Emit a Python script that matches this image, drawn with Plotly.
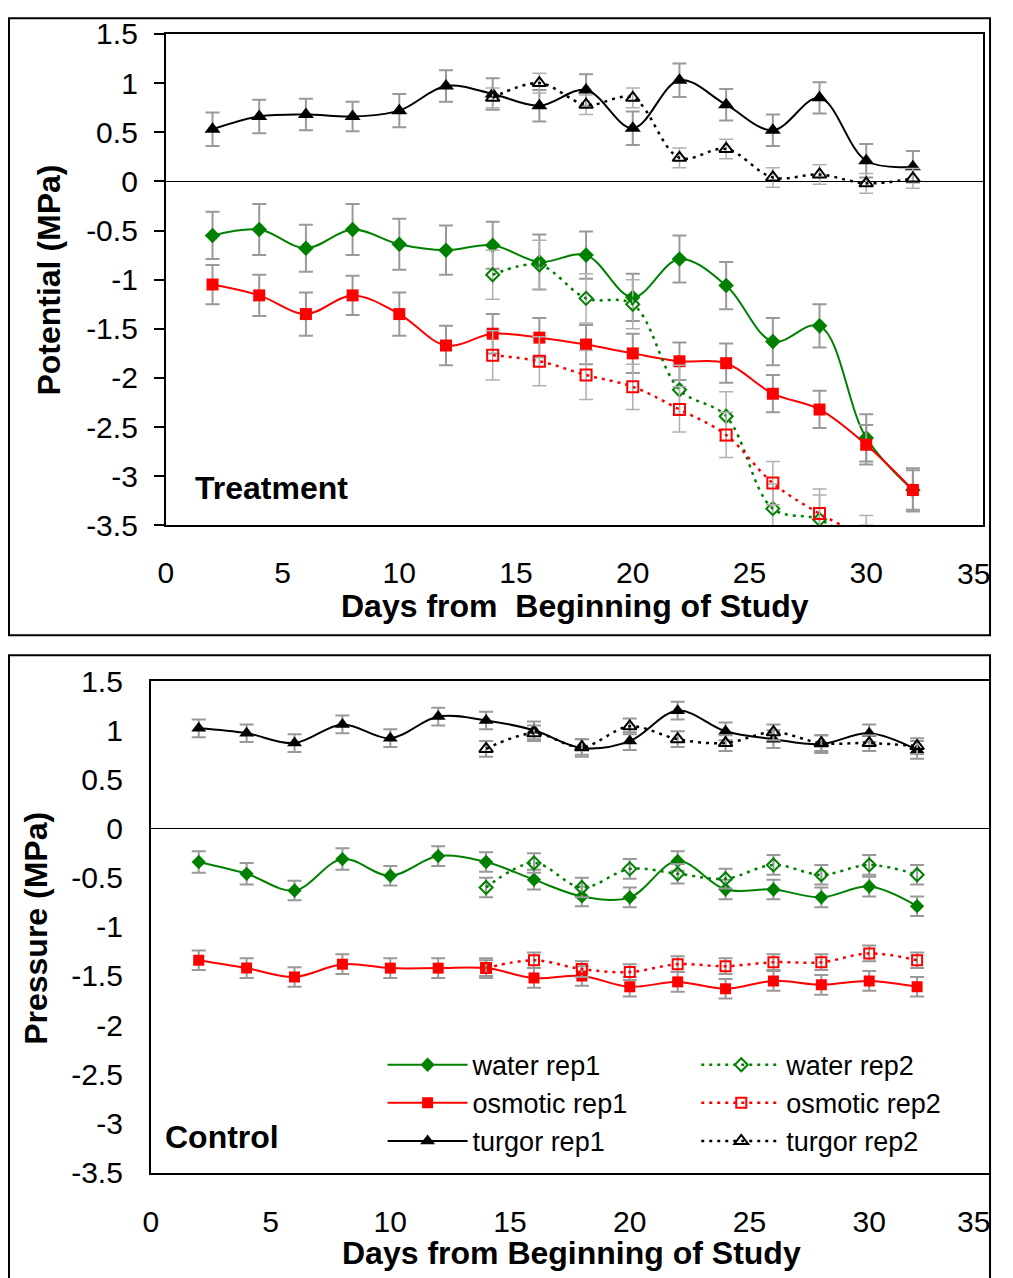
import plotly.graph_objects as go

# ---- data -------------------------------------------------------------
days = [2, 4, 6, 8, 10, 12, 14, 16, 18, 20, 22, 24, 26, 28, 30, 32]
days_rep2 = [14, 16, 18, 20, 22, 24, 26, 28, 30, 32]
days_rep2_t = [14, 16, 18, 20, 22, 24, 26, 28, 30]

# Treatment panel
t_water1 = [-0.55, -0.49, -0.68, -0.49, -0.64, -0.70, -0.65, -0.82, -0.75, -1.18, -0.79, -1.06, -1.63, -1.47, -2.61, -3.14]
t_osm1 = [-1.05, -1.16, -1.35, -1.16, -1.35, -1.67, -1.55, -1.59, -1.66, -1.75, -1.83, -1.85, -2.16, -2.32, -2.68, -3.14]
t_turg1 = [0.53, 0.66, 0.68, 0.66, 0.72, 0.97, 0.89, 0.77, 0.93, 0.54, 1.03, 0.78, 0.52, 0.85, 0.21, 0.15]
t_water2 = [-0.95, -0.85, -1.19, -1.25, -2.12, -2.39, -3.33, -3.44, -3.75]
t_osm2 = [-1.77, -1.83, -1.97, -2.09, -2.32, -2.58, -3.07, -3.38, -3.62]
t_turg2 = [0.85, 1.00, 0.78, 0.85, 0.24, 0.33, 0.04, 0.07, -0.02, 0.03]

t_water1_err = [0.24, 0.26, 0.24, 0.26, 0.26, 0.25, 0.24, 0.28, 0.24, 0.24, 0.24, 0.24, 0.24, 0.22, 0.24, 0.22]
t_osm1_err = [0.20, 0.21, 0.22, 0.20, 0.22, 0.20, 0.20, 0.20, 0.20, 0.20, 0.19, 0.20, 0.19, 0.19, 0.20, 0.20]
t_turg1_err = [0.17, 0.17, 0.16, 0.15, 0.17, 0.16, 0.16, 0.16, 0.16, 0.17, 0.17, 0.16, 0.16, 0.16, 0.17, 0.16]
t_water2_err = [0.25, 0.25, 0.25, 0.25, 0.25, 0.25, 0.25, 0.25, 0.25]
t_osm2_err = [0.25, 0.25, 0.25, 0.23, 0.23, 0.23, 0.22, 0.25, 0.22]
t_turg2_err = [0.10, 0.10, 0.10, 0.10, 0.10, 0.10, 0.10, 0.10, 0.10, 0.10]

# Control panel
c_water1 = [-0.34, -0.46, -0.63, -0.31, -0.48, -0.28, -0.34, -0.52, -0.69, -0.70, -0.33, -0.62, -0.62, -0.70, -0.59, -0.79]
c_osm1 = [-1.34, -1.42, -1.51, -1.38, -1.42, -1.42, -1.42, -1.52, -1.50, -1.61, -1.56, -1.63, -1.55, -1.59, -1.55, -1.61]
c_turg1 = [1.02, 0.97, 0.87, 1.06, 0.92, 1.14, 1.10, 1.00, 0.82, 0.89, 1.20, 0.99, 0.91, 0.86, 0.97, 0.80]
c_water2 = [-0.60, -0.35, -0.60, -0.41, -0.46, -0.51, -0.37, -0.47, -0.37, -0.47]
c_osm2 = [-1.42, -1.34, -1.43, -1.46, -1.38, -1.40, -1.36, -1.36, -1.27, -1.34]
c_turg2 = [0.81, 0.97, 0.83, 1.04, 0.91, 0.87, 0.98, 0.87, 0.87, 0.84]

c_water1_err = [0.11, 0.11, 0.10, 0.11, 0.10, 0.10, 0.10, 0.10, 0.10, 0.10, 0.10, 0.10, 0.10, 0.10, 0.10, 0.10]
c_osm1_err = [0.10, 0.10, 0.10, 0.10, 0.10, 0.10, 0.10, 0.10, 0.10, 0.10, 0.10, 0.10, 0.10, 0.10, 0.10, 0.10]
c_turg1_err = [0.09, 0.09, 0.09, 0.09, 0.09, 0.09, 0.09, 0.09, 0.09, 0.09, 0.09, 0.09, 0.09, 0.09, 0.09, 0.09]
c_water2_err = [0.10, 0.10, 0.10, 0.10, 0.10, 0.10, 0.10, 0.10, 0.10, 0.10]
c_osm2_err = [0.08, 0.08, 0.08, 0.08, 0.08, 0.08, 0.08, 0.08, 0.08, 0.08]
c_turg2_err = [0.08, 0.08, 0.08, 0.08, 0.08, 0.08, 0.08, 0.08, 0.08, 0.08]

x_ticks = [0, 5, 10, 15, 20, 25, 30]
x_last_tick = "35"
y_ticks = [1.5, 1, 0.5, 0, -0.5, -1, -1.5, -2, -2.5, -3, -3.5]

# ---- page geometry ---------------------------------------------------
# Positions are written in page pixels and turned into paper fractions
# of the figure canvas, which the page shows slightly inset and squeezed.
CANVAS_W, CANVAS_H = 992, 1296
X_OFF, X_SCALE = 5.0, 0.993
Y_OFF, Y_SCALE = 15.0, 0.975
FONT = "Liberation Sans, Arial, sans-serif"
GREEN, RED, BLACK = "#008000", "#FF0000", "#000000"
DOT = "3px,5px"


def px(x):
    f = (x - X_OFF) / X_SCALE / CANVAS_W
    return min(max(f, 0.0), 0.999)


def py(y):
    f = 1 - (y - Y_OFF) / Y_SCALE / CANVAS_H
    return min(f, 0.999)


fig = go.Figure()


def add_series(x, y, err, name, color, symbol, size, dash, xa, ya,
               legend=None, err_color="#999999", err_thick=2.0):
    fig.add_trace(go.Scatter(
        x=x, y=y, name=name, mode="lines+markers",
        line=dict(color=color, width=2 if dash == "solid" else 2.5,
                  dash=dash, shape="spline", smoothing=1),
        marker=dict(symbol=symbol, size=size, color=color,
                    line=dict(color=color, width=2 if "open" in symbol else 0)),
        error_y=dict(type="data", array=err, color=err_color,
                     thickness=err_thick, width=7),
        xaxis=xa, yaxis=ya,
        showlegend=legend is not None,
        legend=legend if legend else "legend",
    ))


# Treatment panel (no legend entries)
add_series(days, t_water1, t_water1_err, "water rep1", GREEN, "diamond", 12, "solid", "x", "y")
add_series(days, t_osm1, t_osm1_err, "osmotic rep1", RED, "square", 12, "solid", "x", "y")
add_series(days, t_turg1, t_turg1_err, "turgor rep1", BLACK, "triangle-up", 14, "solid", "x", "y")
add_series(days_rep2_t, t_water2, t_water2_err, "water rep2", GREEN, "diamond-open", 10, DOT, "x", "y",
           err_color="#b0b0b0", err_thick=1.5)
add_series(days_rep2_t, t_osm2, t_osm2_err, "osmotic rep2", RED, "square-open", 11, DOT, "x", "y",
           err_color="#b0b0b0", err_thick=1.5)
add_series(days_rep2, t_turg2, t_turg2_err, "turgor rep2", BLACK, "triangle-up-open", 12, DOT, "x", "y",
           err_color="#b0b0b0", err_thick=1.5)

# Control panel (carries the legend)
add_series(days, c_water1, c_water1_err, "water rep1", GREEN, "diamond", 11, "solid", "x2", "y2", legend="legend")
add_series(days, c_osm1, c_osm1_err, "osmotic rep1", RED, "square", 11, "solid", "x2", "y2", legend="legend")
add_series(days, c_turg1, c_turg1_err, "turgor rep1", BLACK, "triangle-up", 13, "solid", "x2", "y2", legend="legend")
add_series(days_rep2, c_water2, c_water2_err, "water rep2", GREEN, "diamond-open", 10, DOT, "x2", "y2", legend="legend2")
add_series(days_rep2, c_osm2, c_osm2_err, "osmotic rep2", RED, "square-open", 10, DOT, "x2", "y2", legend="legend2")
add_series(days_rep2, c_turg2, c_turg2_err, "turgor rep2", BLACK, "triangle-up-open", 12, DOT, "x2", "y2", legend="legend2")

tick_font = dict(family=FONT, size=30, color="black")


def xaxis(dom_x, anchor, standoff):
    return dict(domain=dom_x, anchor=anchor, range=[0, 35], tickvals=x_ticks,
                ticks="", showgrid=False, zeroline=False, showline=True,
                linecolor="black", linewidth=2, mirror=True,
                tickfont=tick_font, ticklabelstandoff=standoff, fixedrange=True)


def yaxis(dom_y, anchor, ticks, standoff):
    return dict(domain=dom_y, anchor=anchor, range=[-3.5, 1.5], tickvals=y_ticks,
                ticktext=[f"{v:g}" for v in y_ticks],
                ticks=ticks, ticklen=10, tickwidth=1.5, tickcolor="black",
                showgrid=False, zeroline=True, zerolinecolor="black", zerolinewidth=1,
                showline=True, linecolor="black", linewidth=2, mirror=True,
                tickfont=tick_font, ticklabelstandoff=standoff, fixedrange=True)


legend_common = dict(
    font=dict(family=FONT, size=27, color="black"),
    bgcolor="rgba(0,0,0,0)", borderwidth=0, traceorder="normal",
    xanchor="left", yanchor="top", itemwidth=80, tracegroupgap=0,
)

fig.update_layout(
    width=CANVAS_W, height=CANVAS_H,
    margin=dict(l=0, r=0, t=0, b=0, pad=0),
    paper_bgcolor="white", plot_bgcolor="white",
    font=dict(family=FONT, color="black"),
    xaxis=xaxis([px(163), px(981)], "y", 20),
    yaxis=yaxis([py(524), py(32)], "x", "outside", 10),
    xaxis2=xaxis([px(148), px(987)], "y2", 21),
    yaxis2=yaxis([py(1172), py(680)], "x2", "", 20),
    legend=dict(x=px(380), y=py(1040), **legend_common),
    legend2=dict(x=px(694), y=py(1040), **legend_common),
    showlegend=True,
)

# panel frames
fig.add_shape(type="rect", xref="paper", yref="paper",
              x0=px(6), x1=0.998, y0=py(634), y1=0.999,
              line=dict(color="black", width=2))
fig.add_shape(type="rect", xref="paper", yref="paper",
              x0=px(6), x1=0.998, y0=-0.02, y1=py(654),
              line=dict(color="black", width=2))

# the last day tick sits at the right edge, so it is set flush right
for ya in (py(572), py(1221)):
    fig.add_annotation(text=x_last_tick, xref="paper", yref="paper",
                       x=0.9995, y=ya, xanchor="right", yanchor="middle",
                       showarrow=False, font=tick_font)

bold = dict(family=FONT, size=32, color="black")
annotations = [
    dict(text="<b>Potential (MPa)</b>", x=px(46), y=py(278), textangle=-90),
    dict(text="<b>Days from  Beginning of Study</b>", x=px(573), y=py(605)),
    dict(text="<b>Pressure (MPa)</b>", x=px(33), y=py(927), textangle=-90),
    dict(text="<b>Days from Beginning of Study</b>", x=px(569), y=py(1253)),
    dict(text="<b>Treatment</b>", x=px(269), y=py(487)),
    dict(text="<b>Control</b>", x=px(219), y=py(1136)),
]
for a in annotations:
    fig.add_annotation(xref="paper", yref="paper", showarrow=False,
                       xanchor="center", yanchor="middle", font=bold, **a)

fig.write_html("out.html")
